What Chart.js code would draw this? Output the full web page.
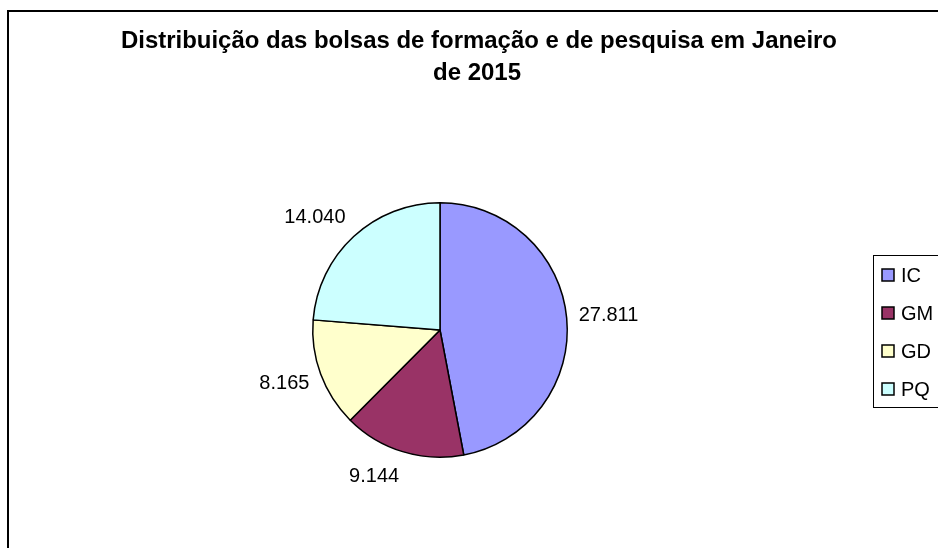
<!DOCTYPE html>
<html>
<head>
<meta charset="utf-8">
<script src="https://cdn.jsdelivr.net/npm/chart.js@4"></script>
<style>
  html, body { margin: 0; padding: 0; background: #fff; }
  #wrap { position: relative; width: 938px; height: 548px; }
</style>
</head>
<body>
<div id="wrap"><canvas id="chart"></canvas></div>
<script>
'use strict';

const titleLines = ['Distribuição das bolsas de formação e de pesquisa em Janeiro', 'de 2015'];
const categories = ['IC', 'GM', 'GD', 'PQ'];
const bolsas = [27811, 9144, 8165, 14040];
const sliceColors = ['#9999FF', '#993366', '#FFFFCC', '#CCFFFF'];

const FONT = '"Liberation Sans", Arial, sans-serif';

// pt-BR style thousands: 27811 -> 27.811
function formatValue(v) {
    return String(v).replace(/\B(?=(\d{3})+(?!\d))/g, '.');
}

// frame, title, value labels and legend drawn on top of the pie
const decorations = {
    id: 'decorations',
    afterDraw(chart) {
        const ctx = chart.ctx;
        ctx.save();

        // outer frame (only left and top edges are inside the picture)
        ctx.fillStyle = '#000';
        ctx.fillRect(7, 10, 2, 548);
        ctx.fillRect(7, 10, 938, 2);

        // title
        ctx.font = 'bold 24px ' + FONT;
        ctx.textAlign = 'center';
        ctx.textBaseline = 'alphabetic';
        ctx.fillText(titleLines[0], 479, 48, 716);
        ctx.fillText(titleLines[1], 477, 80);

        // value labels outside each slice
        const meta = chart.getDatasetMeta(0);
        ctx.font = '20px ' + FONT;
        ctx.textBaseline = 'middle';
        meta.data.forEach(function(arc, i) {
            const p = arc.getProps(['x', 'y', 'startAngle', 'endAngle', 'outerRadius'], true);
            const mid = (p.startAngle + p.endAngle) / 2;
            const ux = Math.cos(mid);
            const uy = Math.sin(mid);
            const text = formatValue(chart.data.datasets[0].data[i]);
            const w = ctx.measureText(text).width;
            const r = p.outerRadius + 12;
            const x = p.x + r * ux + Math.sign(ux) * w / 2;
            const y = p.y + r * uy + uy * 14;
            ctx.textAlign = 'center';
            ctx.fillText(text, x, y);
        });

        // legend
        const lx = 873.5, ly = 255.5;
        ctx.strokeStyle = '#000';
        ctx.lineWidth = 1;
        ctx.strokeRect(lx, ly, 100, 152);
        ctx.font = '20px ' + FONT;
        ctx.textAlign = 'left';
        chart.data.labels.forEach(function(label, i) {
            const cy = 275 + i * 38;
            ctx.fillStyle = chart.data.datasets[0].backgroundColor[i];
            ctx.fillRect(882, cy - 6, 12, 12);
            ctx.lineWidth = 1.5;
            ctx.strokeRect(882, cy - 6, 12, 12);
            ctx.fillStyle = '#000';
            ctx.fillText(label, 901, cy + 1);
        });

        ctx.restore();
    }
};

const chart = new Chart(document.getElementById('chart').getContext('2d'), {
    type: 'pie',
    data: {
        labels: categories,
        datasets: [{
            data: bolsas,
            backgroundColor: sliceColors,
            borderColor: '#000',
            borderWidth: 1.5
        }]
    },
    options: {
        responsive: true,
        maintainAspectRatio: false,
        animation: false,
        layout: {
            padding: { left: 312, right: 370, top: 202, bottom: 90 }
        },
        plugins: {
            legend: { display: false },
            title: { display: false },
            tooltip: { enabled: false }
        }
    },
    plugins: [decorations]
});
</script>
</body>
</html>
